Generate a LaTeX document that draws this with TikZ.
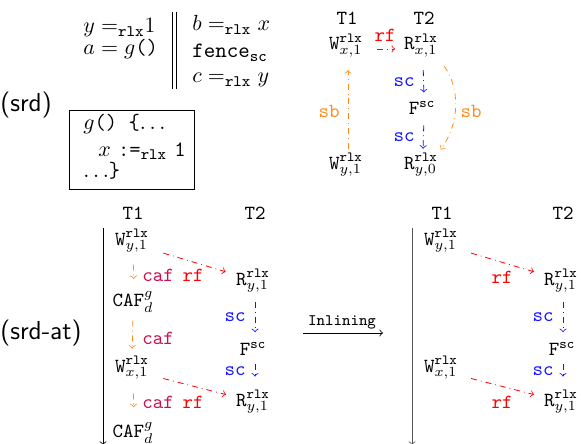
\documentclass[tikz,border=0pt]{standalone}
\usetikzlibrary{calc}

\definecolor{rfred}{RGB}{255,0,0}
\definecolor{scblue}{RGB}{20,20,255}
\definecolor{sborange}{RGB}{255,140,30}
\definecolor{cafpurple}{RGB}{200,16,80}
\definecolor{threadgray}{RGB}{85,85,85}

% event: letter, mode, subscript
\newcommand{\evt}[3]{$\mathtt{#1}^{\mathtt{#2}}_{#3}$}

\begin{document}
\begin{tikzpicture}[x=0.5pt,y=-0.5pt,
  prog/.style={inner sep=0pt, anchor=base west, font=\fontsize{11}{13}\selectfont},
  ev/.style={inner sep=0pt, anchor=base},
  hdr/.style={inner sep=0pt, anchor=base, font=\ttfamily},
  tag/.style={inner sep=0pt, font=\fontsize{13}{15}\selectfont\sffamily, anchor=base west},
  lbl/.style={inner sep=0pt, font=\ttfamily},
  rel/.style={->, line width=0.4pt, dash pattern=on 3pt off 2pt on 0.4pt off 2pt},
  rfrel/.style={rel, rfred},
  screl/.style={rel, scblue},
  sbrel/.style={rel, sborange},
  cafrel/.style={rel, sborange},
  rflbl/.style={lbl, rfred},
  sclbl/.style={lbl, scblue},
  sblbl/.style={lbl, sborange},
  caflbl/.style={lbl, cafpurple},
]
\useasboundingbox (0,0) rectangle (581,443);

% ---------------- program (srd) ----------------
\node[prog] (l1) at (83,33) {$y =_{\mathtt{rlx}}$1};
\node[prog] (l2) at (83,55) {$a = g$\texttt{()}};
\node[prog] (r1) at (192,31) {$b =_{\mathtt{rlx}} x$};
\node[prog] (r2) at (192,58) {$\mathtt{fence}_{\mathtt{sc}}$};
\node[prog] (r3) at (192,83) {$c =_{\mathtt{rlx}} y$};
\coordinate (barAt) at (172.7,12);
\coordinate (barAb) at (172.7,89);
\coordinate (barBt) at (176.7,12);
\coordinate (barBb) at (176.7,89);
\draw (barAt) -- (barAb);
\draw (barBt) -- (barBb);

\node[tag] (srd) at (0,111.5) {(srd)};

\node[draw, minimum width=62.5pt, minimum height=39.3pt, inner sep=0pt] (gbox) at (131.7,150) {};
\node[prog] (g1) at (83,130) {$g$\texttt{() \{}$\ldots$};
\node[prog] (g2) at (98,156) {$x$ \texttt{:=}$_{\mathtt{rlx}}$ \texttt{1}};
\node[prog] (g3) at (83,177) {$\ldots$\texttt{\}}};

% ---------------- execution graph (srd) ----------------
\node[hdr] (tA1) at (347,25) {T1};
\node[hdr] (tA2) at (424,25) {T2};
\node[ev] (wx) at (346,50) {\evt{W}{rlx}{x,1}};
\node[ev] (rx) at (421,50) {\evt{R}{rlx}{x,1}};
\node[ev] (fA) at (422,115) {$\mathtt{F}^{\mathtt{sc}}$};
\node[ev] (wy) at (346,169) {\evt{W}{rlx}{y,1}};
\node[ev] (ry) at (421,169) {\evt{R}{rlx}{y,0}};

\draw[rfrel, shorten <=6.8pt, shorten >=4.3pt] ([yshift=-1.5pt]wx.east) -- ([yshift=-1.5pt]rx.west);
\node[rflbl] (rfA) at (385,35) {rf};
\draw[screl, shorten <=6pt, shorten >=4.4pt] ([xshift=1pt]rx.south) -- ([xshift=1pt]fA.north);
\node[sclbl] (scA1) at (404,82) {sc};
\draw[screl, shorten <=5pt, shorten >=2pt] ([xshift=1pt]fA.south) -- ([xshift=1pt]ry.north);
\node[sclbl] (scA2) at (404,137) {sc};
\draw[sbrel, shorten <=2pt, shorten >=6pt] ([xshift=1pt]wy.north) -- ([xshift=1pt]wx.south);
\node[sblbl] (sbA1) at (329,111) {sb};
\draw[sbrel, shorten <=5pt, shorten >=2pt] (rx.south east) to[bend left=36] (ry.north east);
\node[sblbl] (sbA2) at (471,111) {sb};

% ---------------- (srd-at), before inlining ----------------
\node[tag] (srdat) at (0,339.5) {(srd-at)};
\coordinate (thBt) at (103,228);
\coordinate (thBb) at (103,445);
\draw[->] (thBt) -- (thBb);

\node[hdr] (tB1) at (133,219) {T1};
\node[hdr] (tB2) at (255,219) {T2};
\node[ev] (bwy) at (132,245) {\evt{W}{rlx}{y,1}};
\node[ev] (bc1) at (133,306.7) {$\mathtt{CAF}^{g}_{d}$};
\node[ev] (bwx) at (132,372) {\evt{W}{rlx}{x,1}};
\node[ev] (bc2) at (133,437.7) {$\mathtt{CAF}^{g}_{d}$};
\node[ev] (bry1) at (253,285) {\evt{R}{rlx}{y,1}};
\node[ev] (bf) at (253,355.7) {$\mathtt{F}^{\mathtt{sc}}$};
\node[ev] (bry2) at (253,406) {\evt{R}{rlx}{y,1}};

\draw[cafrel, shorten <=5.7pt, shorten >=5.8pt] ([xshift=0.5pt]bwy.south) -- ([xshift=0.5pt]bc1.north);
\node[caflbl] (bcaf1) at (158,275) {caf};
\node[rflbl] (brf1) at (193,275) {rf};
\draw[cafrel, shorten <=3.7pt, shorten >=3.6pt] ([xshift=0pt]bc1.south) -- ([xshift=0pt]bwx.north);
\node[caflbl] (bcaf2) at (158,338) {caf};
\draw[cafrel, shorten <=6.7pt, shorten >=7.2pt] ([xshift=0.5pt]bwx.south) -- ([xshift=0.5pt]bc2.north);
\node[caflbl] (bcaf3) at (158,402) {caf};
\node[rflbl] (brf2) at (193,402) {rf};

\draw[rfrel] ([xshift=7pt]bwy.south east) -- ([xshift=-5pt,yshift=-1.5pt]bry1.north west);
\draw[rfrel] ([xshift=7pt,yshift=0.8pt]bwx.south east) -- ([xshift=-4.85pt,yshift=-2.4pt]bry2.north west);

\draw[screl, shorten <=4.7pt, shorten >=4.9pt] ([xshift=1pt]bry1.south) -- ([xshift=1pt]bf.north);
\node[sclbl] (bsc1) at (235,317) {sc};
\draw[screl, shorten <=4pt, shorten >=6.6pt] ([xshift=1pt]bf.south) -- ([xshift=1pt]bry2.north);
\node[sclbl] (bsc2) at (235,371) {sc};

% ---------------- inlining step ----------------
\coordinate (inA) at (303,333);
\coordinate (inB) at (383,333);
\draw[->] (inA) -- (inB);
\node[inner sep=0pt, anchor=base, font=\footnotesize\ttfamily] (inl) at (342,325) {Inlining};

% ---------------- (srd-at), after inlining ----------------
\coordinate (thCt) at (412,228);
\coordinate (thCb) at (412,445);
\draw[->, threadgray] (thCt) -- (thCb);

\node[hdr] (tC1) at (442,219) {T1};
\node[hdr] (tC2) at (563,219) {T2};
\node[ev] (cwy) at (441,245) {\evt{W}{rlx}{y,1}};
\node[ev] (cwx) at (441,372) {\evt{W}{rlx}{x,1}};
\node[ev] (cry1) at (561,285) {\evt{R}{rlx}{y,1}};
\node[ev] (cf) at (562,355.7) {$\mathtt{F}^{\mathtt{sc}}$};
\node[ev] (cry2) at (561,406) {\evt{R}{rlx}{y,1}};

\draw[rfrel] ([xshift=6.4pt]cwy.south east) -- ([xshift=-4.85pt,yshift=-1.5pt]cry1.north west);
\node[rflbl] (crf1) at (502,277) {rf};
\draw[rfrel] ([xshift=6.4pt,yshift=0.8pt]cwx.south east) -- ([xshift=-4.85pt,yshift=-2.4pt]cry2.north west);
\node[rflbl] (crf2) at (502,402) {rf};

\draw[screl, shorten <=4.7pt, shorten >=4.9pt] ([xshift=1pt]cry1.south) -- ([xshift=0.5pt]cf.north);
\node[sclbl] (csc1) at (543,317) {sc};
\draw[screl, shorten <=4pt, shorten >=6.6pt] ([xshift=0.5pt]cf.south) -- ([xshift=1pt]cry2.north);
\node[sclbl] (csc2) at (543,371) {sc};
\end{tikzpicture}
\end{document}
